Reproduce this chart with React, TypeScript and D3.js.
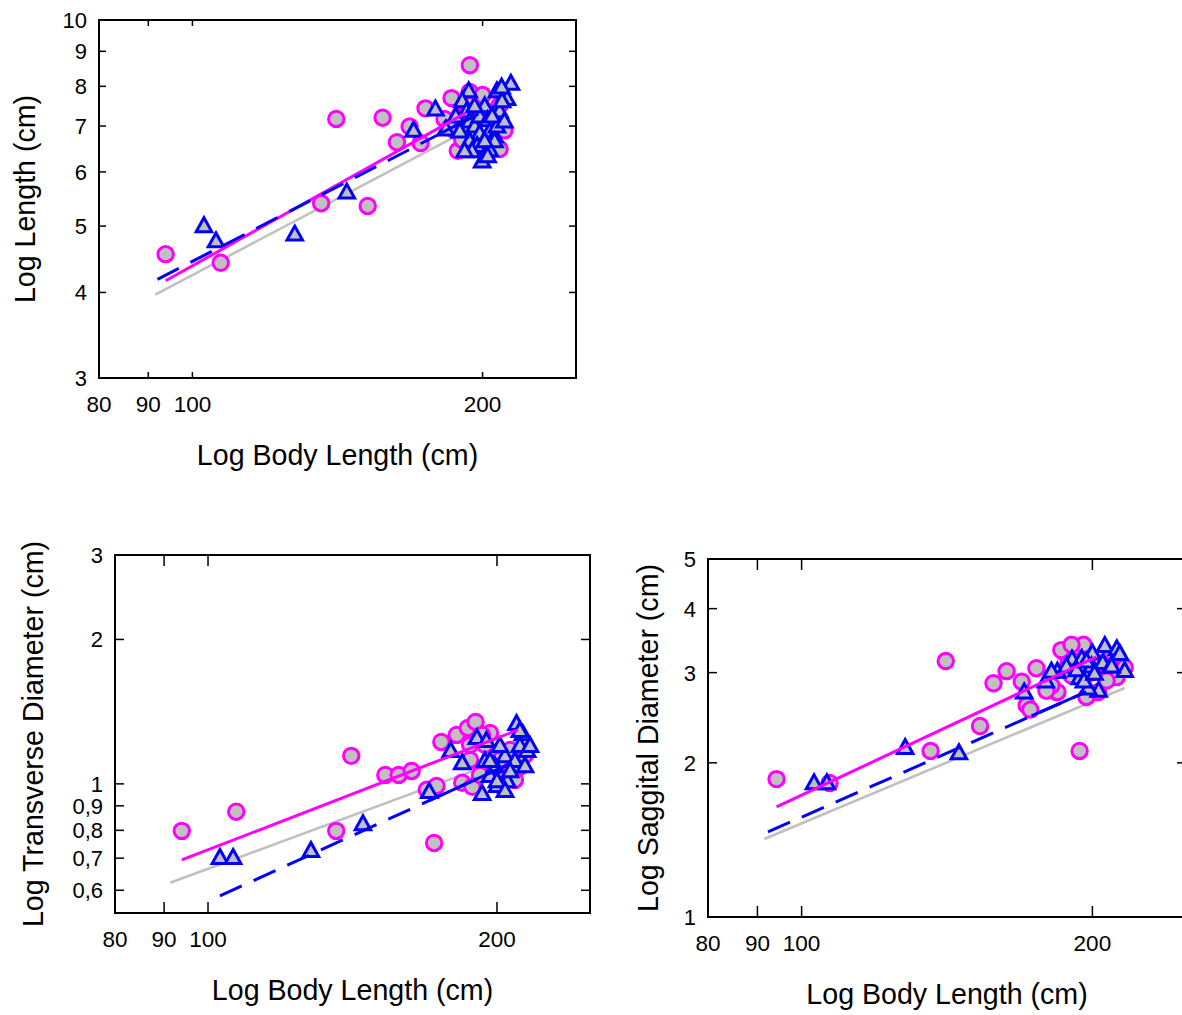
import React from 'react';
import * as d3 from 'd3';

type Pt = [number, number];

const X_DOMAIN: [number, number] = [80, 250];
const X_TICKS = [80, 90, 100, 200];

const LENGTH_Y_TICKS = [3, 4, 5, 6, 7, 8, 9, 10];
const TRANS_Y_TICKS = [0.6, 0.7, 0.8, 0.9, 1, 2, 3];
const SAG_Y_TICKS = [1, 2, 3, 4, 5];

const lengthCircles: Pt[] = [
  [93.8, 4.55], [107, 4.42], [141, 7.17], [136, 5.4], [152, 5.35], [157.5, 7.2], [163, 6.63], [168, 6.99],
  [172.5, 6.61], [174.5, 7.43], [185.7, 7.69], [194, 8.59], [193.9, 7.85], [196.7, 7.64], [189.4, 7.26],
  [197.4, 7.14], [187.1, 6.9], [191.6, 6.68], [188.5, 6.44], [196.2, 6.48], [203.4, 6.68], [205.8, 7.14],
  [208.3, 7.51], [201, 7.38], [207, 6.51], [190.5, 7.02], [182.6, 7.17], [210.7, 6.9], [193, 7.38], [200, 7.77],
  [184.9, 6.96], [190.5, 6.68], [193.9, 7.51], [198.6, 6.57], [204.5, 6.46], [208.3, 6.48],
];
const lengthTriangles: Pt[] = [
  [102.8, 5.02], [105.8, 4.77], [127.7, 4.88], [144.6, 5.62], [169.6, 6.92], [178.7, 7.43],
  [193.5, 7.9], [190.5, 7.64], [183.2, 6.95], [187.6, 7.26], [192.5, 7.38], [193.9, 7.14], [196.2, 7.02],
  [198.6, 7.26], [201, 7.51], [202.4, 7.17], [198.6, 6.85], [203.4, 6.9], [205.8, 6.79], [199.8, 6.24],
  [193.9, 6.68], [197.4, 6.57], [203.4, 6.48], [207, 7.02], [208.3, 7.38], [207, 7.9], [210.7, 7.77],
  [212, 7.7], [214, 8.1], [209.5, 7.64], [205.8, 6.68], [201, 6.68], [195, 6.46], [189.4, 6.9],
  [196.2, 7.51], [191.6, 6.46], [202.4, 6.35], [204.6, 7.26], [210.7, 7.14], [209.3, 8.0],
];
const lengthFitMagenta: Pt[] = [[93.8, 4.16], [192, 7.31]];
const lengthFitGray: Pt[] = [[91.5, 3.97], [192, 6.88]];
const lengthFitBlue: Pt[] = [[92, 4.18], [198, 7.29]];
const lengthBlueSolid: [number, number] = [180.5, 198];

const transCircles: Pt[] = [
  [93.9, 0.798], [107, 0.875], [141, 1.144], [136, 0.798], [172, 0.753], [153, 1.044], [158, 1.044],
  [163, 1.064], [169, 0.972], [173, 0.99], [175, 1.223], [181.6, 1.265], [186.5, 1.308], [190, 1.346],
  [184, 1.005], [188.5, 0.986], [196.7, 1.277], [198, 1.085], [204.5, 1.034], [211.3, 1.085], [192, 1.044],
  [201.4, 1.122], [206.4, 1.177], [194.3, 1.206], [187.5, 1.122], [208.8, 1.069],
  [187.5, 1.206], [193, 1.265], [201.4, 0.995], [208.8, 1.019], [213.9, 1.149],
];
const transTriangles: Pt[] = [
  [102.9, 0.705], [106.2, 0.705], [128, 0.729], [145, 0.829], [170, 0.967], [179, 1.177], [184, 1.111],
  [190.6, 1.253], [195, 1.235], [209.6, 1.34], [212.8, 1.277], [215, 1.177], [193, 0.958], [200, 0.995],
  [205, 1.019], [199, 1.095], [203.9, 1.149], [208.8, 1.122], [201.4, 1.206], [196.7, 1.044], [211.3, 1.206],
  [206.4, 1.069], [194.3, 1.122], [213.9, 1.095], [200, 1.019],
  [211.3, 1.296], [196.7, 1.122], [203.9, 0.972], [216.5, 1.206],
];
const transFitMagenta: Pt[] = [[93.9, 0.694], [210.4, 1.296]];
const transFitGray: Pt[] = [[91.3, 0.622], [201.6, 1.117]];
const transFitBlue: Pt[] = [[102.9, 0.584], [209, 1.114]];
const transBlueSolid: [number, number] = [170, 205];

const sagCircles: Pt[] = [
  [94.2, 1.859], [106.9, 1.827], [141, 3.16], [136, 2.11], [153, 2.36], [158, 2.86], [163, 3.02], [169, 2.88],
  [171, 2.59], [172.5, 2.54], [175, 3.06], [194, 2.11], [183.6, 2.75], [187.1, 3.28], [192.6, 3.37], [195.8, 3.4],
  [189, 3.13], [184, 2.75], [197.2, 2.69], [202.8, 2.75], [211.9, 2.94], [209.4, 3.22], [216, 3.07], [199.6, 3.0],
  [204.5, 3.13], [181.4, 2.83], [190.3, 2.96],
  [185.7, 3.32], [190.3, 3.4], [179.2, 2.766], [206.9, 2.895],
];
const sagTriangles: Pt[] = [
  [103, 1.835], [106.2, 1.835], [128, 2.15], [145.5, 2.1], [170, 2.76], [179, 2.9], [184, 3.03], [190.5, 3.2],
  [195, 3.21], [200, 3.29], [206, 3.4], [212, 3.35], [213.5, 3.28], [216, 3.04], [203, 2.78], [198, 2.81],
  [194, 2.94], [188, 3.1], [192.6, 3.05], [199.6, 3.1], [205, 3.15], [209, 3.1], [196, 2.9], [201, 3.0],
  [181.4, 3.03], [209.4, 3.1], [197.2, 3.17],
];
const sagFitMagenta: Pt[] = [[94.2, 1.64], [202, 3.22]];
const sagFitGray: Pt[] = [[91.5, 1.42], [216, 2.8]];
const sagFitBlue: Pt[] = [[92.3, 1.466], [197, 2.75]];
const sagBlueSolid: [number, number] = [173, 197];

const FONT = '"Liberation Sans", Arial, Helvetica, sans-serif';
const MAGENTA = '#ff00ff';
const BLUE = '#0000ff';
const GRAY = '#c0c0c0';

interface PanelProps {
  id: string;
  left: number; right: number; top: number; bottom: number;
  yDomain: [number, number];
  yTicks: number[];
  yTitle: string;
  yTitleX: number;
  circles: Pt[]; triangles: Pt[];
  fitMagenta: Pt[]; fitGray: Pt[]; fitBlue: Pt[];
  blueSolid: [number, number];
  yTickLen: number; xTickLen: number;
}

const fmt = (v: number) => String(v).replace('.', ',');

// point on a straight line in log-log space between the two fit end points
function onFit(fit: Pt[], xv: number): Pt {
  const [a, b] = fit;
  const t = (Math.log(xv) - Math.log(a[0])) / (Math.log(b[0]) - Math.log(a[0]));
  return [xv, Math.exp(Math.log(a[1]) + t * (Math.log(b[1]) - Math.log(a[1])))];
}

function Panel(p: PanelProps) {
  const x = d3.scaleLog().domain(X_DOMAIN).range([p.left, p.right]);
  const y = d3.scaleLog().domain(p.yDomain).range([p.bottom, p.top]);
  const line = d3.line<Pt>().x(d => x(d[0])).y(d => y(d[1]));
  const s = 15.5;
  const h = s * 0.866;
  const tri = `M0,${-h / 2 - 0.5}L${s / 2},${h / 2}L${-s / 2},${h / 2}Z`;
  const cx = (p.left + p.right) / 2;
  const cy = (p.top + p.bottom) / 2;
  const solid: Pt[] = [onFit(p.fitBlue, p.blueSolid[0]), onFit(p.fitBlue, p.blueSolid[1])];
  return (
    <g fontFamily={FONT} fill="#000">
      <defs>
        <clipPath id={`clip-${p.id}`}>
          <rect x={p.left} y={p.top} width={p.right - p.left} height={p.bottom - p.top} />
        </clipPath>
      </defs>
      <g clipPath={`url(#clip-${p.id})`}>
        <path d={line(p.fitGray) || ''} stroke={GRAY} strokeWidth={2.6} fill="none" />
        {p.circles.map((d, i) => (
          <circle key={'c' + i} cx={x(d[0])} cy={y(d[1])} r={7.7} fill={GRAY} stroke={MAGENTA} strokeWidth={3} />
        ))}
        {p.triangles.map((d, i) => (
          <path key={'t' + i} d={tri} transform={`translate(${x(d[0])},${y(d[1])})`} fill={GRAY} stroke={BLUE} strokeWidth={3} strokeLinejoin="miter" />
        ))}
        <path d={line(p.fitMagenta) || ''} stroke={MAGENTA} strokeWidth={3} fill="none" />
        <path d={line(p.fitBlue) || ''} stroke={BLUE} strokeWidth={3} fill="none" strokeDasharray="24,13" />
        <path d={line(solid) || ''} stroke={BLUE} strokeWidth={3} fill="none" />
      </g>
      <rect x={p.left} y={p.top} width={p.right - p.left} height={p.bottom - p.top} fill="none" stroke="#000" strokeWidth={2} />
      {p.yTicks.map(t => (
        <g key={'y' + t}>
          <line x1={p.left} x2={p.left + p.yTickLen} y1={y(t)} y2={y(t)} stroke="#000" strokeWidth={1.5} />
          <line x1={p.right} x2={p.right - p.yTickLen} y1={y(t)} y2={y(t)} stroke="#000" strokeWidth={1.5} />
          <text x={p.left - 12} y={y(t)} dy="0.36em" textAnchor="end" fontSize={22}>{fmt(t)}</text>
        </g>
      ))}
      {X_TICKS.map(t => (
        <g key={'x' + t}>
          <line x1={x(t)} x2={x(t)} y1={p.bottom} y2={p.bottom - p.xTickLen} stroke="#000" strokeWidth={1.5} />
          <line x1={x(t)} x2={x(t)} y1={p.top} y2={p.top + p.xTickLen} stroke="#000" strokeWidth={1.5} />
          <text x={x(t)} y={p.bottom + 34} textAnchor="middle" fontSize={22.5}>{t}</text>
        </g>
      ))}
      <text x={cx} y={p.bottom + 87} textAnchor="middle" fontSize={28.6}>Log Body Length (cm)</text>
      <text transform={`translate(${p.yTitleX},${cy}) rotate(-90)`} textAnchor="middle" fontSize={28.6}>{p.yTitle}</text>
    </g>
  );
}

export default function App() {
  return (
    <svg width={1182} height={1015} style={{ position: 'absolute', left: 0, top: 0, background: '#fff' }}>
      <rect width={1182} height={1015} fill="#fff" />
      <Panel id="len" left={99} right={576} top={20} bottom={378} yDomain={[3, 10]} yTicks={LENGTH_Y_TICKS}
        yTitle="Log Length (cm)" yTitleX={35} circles={lengthCircles} triangles={lengthTriangles}
        fitMagenta={lengthFitMagenta} fitGray={lengthFitGray} fitBlue={lengthFitBlue} blueSolid={lengthBlueSolid}
        yTickLen={7} xTickLen={6} />
      <Panel id="trans" left={115} right={590} top={555} bottom={913} yDomain={[0.538, 3]} yTicks={TRANS_Y_TICKS}
        yTitle="Log Transverse Diameter (cm)" yTitleX={43} circles={transCircles} triangles={transTriangles}
        fitMagenta={transFitMagenta} fitGray={transFitGray} fitBlue={transFitBlue} blueSolid={transBlueSolid}
        yTickLen={9} xTickLen={11} />
      <Panel id="sag" left={708} right={1186} top={559} bottom={917} yDomain={[1, 5]} yTicks={SAG_Y_TICKS}
        yTitle="Log Saggital Diameter (cm)" yTitleX={658} circles={sagCircles} triangles={sagTriangles}
        fitMagenta={sagFitMagenta} fitGray={sagFitGray} fitBlue={sagFitBlue} blueSolid={sagBlueSolid}
        yTickLen={9} xTickLen={11} />
    </svg>
  );
}
